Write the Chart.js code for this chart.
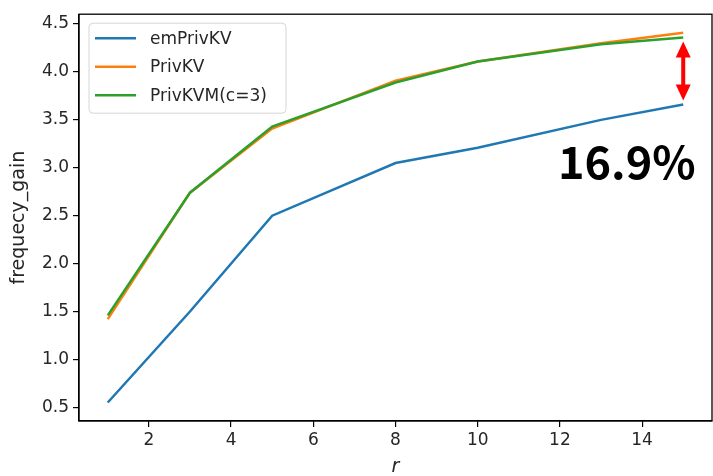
<!DOCTYPE html>
<html>
<head>
<meta charset="utf-8">
<script src="https://cdn.jsdelivr.net/npm/chart.js@4.4.1/dist/chart.umd.min.js"></script>
<style>
  html, body { margin: 0; padding: 0; background: #fff; }
  #wrap { width: 713px; height: 476px; position: relative; }
</style>
</head>
<body>
<div id="wrap"><canvas id="chart"></canvas></div>
<script>
// ── Données ──────────────────────────────────────────────────
const R_VALUES  = [1, 3, 5, 8, 10, 13, 15];
const EM_PRIVKV = [0.55, 1.50, 2.50, 3.05, 3.21, 3.50, 3.66];
const PRIVKV    = [1.42, 2.74, 3.41, 3.91, 4.11, 4.30, 4.41];
const PRIVKVM   = [1.46, 2.74, 3.43, 3.89, 4.11, 4.29, 4.36];
const X_TICKS   = [2, 4, 6, 8, 10, 12, 14];
const Y_TICKS   = [0.5, 1.0, 1.5, 2.0, 2.5, 3.0, 3.5, 4.0, 4.5];
const GAIN_TEXT = "16.9%";

// ── Style ────────────────────────────────────────────────────
const COLORS = ["#1f77b4", "#ff7f0e", "#2ca02c"];
const FONT = "'DejaVu Sans', sans-serif";
Chart.defaults.font.family = FONT;
Chart.defaults.color = "#262626";

function series(label, ys, idx, order) {
  return {
    label,
    data: R_VALUES.map((x, i) => ({ x, y: ys[i] })),
    borderColor: COLORS[idx],
    backgroundColor: COLORS[idx],
    borderWidth: 2.5,
    pointRadius: 0,
    tension: 0,
    fill: false,
    order,
  };
}

// cadre complet (spines matplotlib)
const framePlugin = {
  id: "frame",
  afterDraw(chart) {
    const { ctx, chartArea: a } = chart;
    ctx.save();
    ctx.strokeStyle = "#000";
    ctx.lineWidth = 1.3;
    ctx.strokeRect(a.left, a.top, a.right - a.left, a.bottom - a.top);
    ctx.restore();
  },
};

// légende dans le graphe + flèche + annotation
const overlayPlugin = {
  id: "overlay",
  afterDraw(chart) {
    const { ctx, scales } = chart;
    const a = chart.chartArea;
    ctx.save();

    // légende
    const lx = a.left + 10, ly = a.top + 9, lw = 197, lh = 90;
    ctx.beginPath();
    ctx.roundRect(lx, ly, lw, lh, 4);
    ctx.fillStyle = "rgba(255,255,255,0.8)";
    ctx.fill();
    ctx.strokeStyle = "#d6d6d6";
    ctx.lineWidth = 1;
    ctx.stroke();
    ctx.font = "17px " + FONT;
    ctx.textBaseline = "middle";
    chart.data.datasets.forEach((ds, i) => {
      const y = ly + 15 + i * 28.5;
      ctx.strokeStyle = ds.borderColor;
      ctx.lineWidth = 2.5;
      ctx.beginPath();
      ctx.moveTo(lx + 6, y);
      ctx.lineTo(lx + 47, y);
      ctx.stroke();
      ctx.fillStyle = "#262626";
      ctx.fillText(ds.label, lx + 61, y + 1);
    });

    // flèche double entre PrivKVM et emPrivKV au dernier r
    const last = R_VALUES.length - 1;
    const ax = scales.x.getPixelForValue(R_VALUES[last]);
    const yTop = scales.y.getPixelForValue(PRIVKVM[last]) + 4;
    const yBot = scales.y.getPixelForValue(EM_PRIVKV[last]) - 4;
    const hw = 7.5, hl = 16;
    ctx.fillStyle = "#ff0000";
    ctx.strokeStyle = "#ff0000";
    ctx.lineWidth = 4;
    ctx.beginPath();
    ctx.moveTo(ax, yTop + hl - 1);
    ctx.lineTo(ax, yBot - hl + 1);
    ctx.stroke();
    ctx.beginPath();
    ctx.moveTo(ax, yTop);
    ctx.lineTo(ax - hw, yTop + hl);
    ctx.lineTo(ax + hw, yTop + hl);
    ctx.closePath();
    ctx.fill();
    ctx.beginPath();
    ctx.moveTo(ax, yBot);
    ctx.lineTo(ax - hw, yBot - hl);
    ctx.lineTo(ax + hw, yBot - hl);
    ctx.closePath();
    ctx.fill();

    // texte du gain
    ctx.font = "bold 45px 'Noto Sans CJK JP', sans-serif";
    ctx.fillStyle = "#000";
    ctx.textAlign = "right";
    ctx.textBaseline = "alphabetic";
    ctx.fillText(GAIN_TEXT, scales.x.getPixelForValue(15.3), scales.y.getPixelForValue(2.88));
    ctx.restore();
  },
};

new Chart(document.getElementById("chart"), {
  type: "line",
  data: {
    datasets: [
      series("emPrivKV", EM_PRIVKV, 0, 2),
      series("PrivKV", PRIVKV, 1, 1),
      series("PrivKVM(c=3)", PRIVKVM, 2, 0),
    ],
  },
  options: {
    responsive: true,
    maintainAspectRatio: false,
    animation: false,
    layout: { padding: { top: 10, right: 1, left: 0, bottom: 0 } },
    plugins: { legend: { display: false }, tooltip: { enabled: false } },
    scales: {
      x: {
        type: "linear",
        min: 0.3,
        max: 15.7,
        afterBuildTicks: s => { s.ticks = X_TICKS.map(v => ({ value: v })); },
        afterFit: s => { s.height = 55; },
        grid: { drawOnChartArea: false, drawTicks: true, tickLength: 6, color: "#000", lineWidth: 1.2 },
        border: { display: true, color: "#000", width: 1.3 },
        ticks: { font: { size: 17 }, padding: 3, maxRotation: 0, color: "#262626" },
        title: { display: true, text: "r", font: { size: 19, style: "italic" }, padding: { top: 0, bottom: -2 }, color: "#262626" },
      },
      y: {
        type: "linear",
        min: 0.357,
        max: 4.603,
        afterBuildTicks: s => { s.ticks = Y_TICKS.map(v => ({ value: v })); },
        afterFit: s => { s.width = 79; },
        grid: { drawOnChartArea: false, drawTicks: true, tickLength: 6, color: "#000", lineWidth: 1.2 },
        border: { display: true, color: "#000", width: 1.3 },
        ticks: { font: { size: 17 }, padding: 4, color: "#262626", callback: v => v.toFixed(1) },
        title: { display: true, text: "frequecy_gain", font: { size: 19 }, padding: { top: 8, bottom: 0 }, color: "#262626" },
      },
    },
  },
  plugins: [framePlugin, overlayPlugin],
});
</script>
</body>
</html>
